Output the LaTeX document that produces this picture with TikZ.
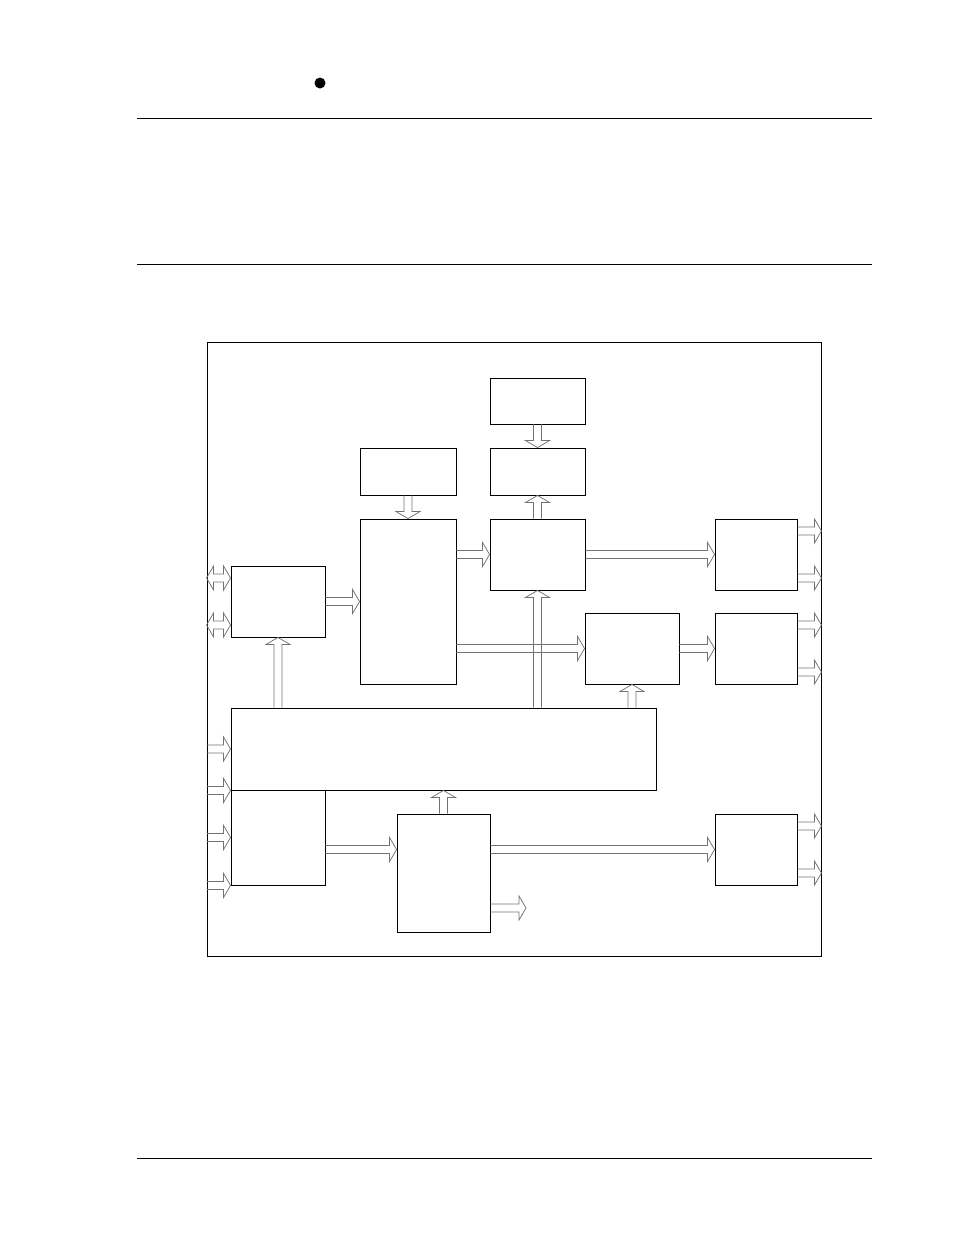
\documentclass[tikz,border=0pt]{standalone}
\usetikzlibrary{calc}

\tikzset{
	blk/.style={draw, line width=.9pt, inner sep=0pt},
	bus/.style={draw=black!55, line width=.75pt, to path={
		let \p1=(\tikztostart), \p2=(\tikztotarget), \n1={atan2(\y2-\y1,\x2-\x1)} in
		($(\p1)+(\n1+90:4pt)$) -- ($(\p2)+(\n1+180:7pt)+(\n1+90:4pt)$)
		-- ($(\p2)+(\n1+180:7pt)+(\n1+90:12pt)$) -- (\p2)
		-- ($(\p2)+(\n1+180:7pt)+(\n1-90:12pt)$) -- ($(\p2)+(\n1+180:7pt)+(\n1-90:4pt)$)
		-- ($(\p1)+(\n1-90:4pt)$)}},
	bibus/.style={draw=black!55, line width=.75pt, to path={
		let \p1=(\tikztostart), \p2=(\tikztotarget), \n1={atan2(\y2-\y1,\x2-\x1)} in
		(\p1) -- ($(\p1)+(\n1:7pt)+(\n1+90:12pt)$) -- ($(\p1)+(\n1:7pt)+(\n1+90:4pt)$)
		-- ($(\p2)+(\n1+180:7pt)+(\n1+90:4pt)$) -- ($(\p2)+(\n1+180:7pt)+(\n1+90:12pt)$) -- (\p2)
		-- ($(\p2)+(\n1+180:7pt)+(\n1-90:12pt)$) -- ($(\p2)+(\n1+180:7pt)+(\n1-90:4pt)$)
		-- ($(\p1)+(\n1:7pt)+(\n1-90:4pt)$) -- ($(\p1)+(\n1:7pt)+(\n1-90:12pt)$) -- cycle}}
}

\begin{document}
\begin{tikzpicture}[x=1pt,y=-1pt]
	\useasboundingbox (0,0) rectangle (954,1235);

	\begin{scope}[line width=1pt]
		\fill (320,83) circle (5.5pt);
		\draw (137,118) -- (872,118);
		\draw (137,264) -- (872,264);
		\draw (137,1158) -- (872,1158);
	\end{scope}

	\node[blk, minimum width=614pt, minimum height=614pt] (frame) at (514,649) {};

	\node[blk, minimum width=95pt, minimum height=46pt] (osc) at (537.5,401) {};
	\node[blk, minimum width=95pt, minimum height=47pt] (div) at (537.5,471.5) {};
	\node[blk, minimum width=96pt, minimum height=47pt] (rom) at (408,471.5) {};
	\node[blk, minimum width=96pt, minimum height=165pt] (cpu) at (408,601.5) {};
	\node[blk, minimum width=95pt, minimum height=71pt] (ctl) at (537.5,554.5) {};
	\node[blk, minimum width=94pt, minimum height=71pt] (port) at (278,601.5) {};
	\node[blk, minimum width=94pt, minimum height=71pt] (tmr) at (632,648.5) {};
	\node[blk, minimum width=82pt, minimum height=71pt] (outa) at (756,554.5) {};
	\node[blk, minimum width=82pt, minimum height=71pt] (outb) at (756,648.5) {};
	\node[blk, minimum width=425pt, minimum height=82pt] (bus) at (443.5,749) {};
	\node[blk, minimum width=94pt, minimum height=95pt] (inp) at (278,837.5) {};
	\node[blk, minimum width=93pt, minimum height=118pt] (adc) at (443.5,873) {};
	\node[blk, minimum width=82pt, minimum height=71pt] (outc) at (756,849.5) {};
	\coordinate (adcout) at (526,908);

	\begin{scope}[every path/.style={bus}]
		\draw (osc.south) to (div.north);
		\draw (ctl.north) to (div.south);
		\draw (rom.south) to (cpu.north);
		\draw (port.east) to (cpu.west |- port.east);
		\draw (cpu.east |- ctl.west) to (ctl.west);
		\draw (ctl.east) to (outa.west);
		\draw (cpu.east |- tmr.west) to (tmr.west);
		\draw (tmr.east) to (outb.west);
		\draw (ctl.south |- bus.north) to (ctl.south);
		\draw (port.south |- bus.north) to (port.south);
		\draw (tmr.south |- bus.north) to (tmr.south);
		\draw (adc.north) to (adc.north |- bus.south);
		\draw (inp.east |- outc.west) to (adc.west |- outc.west);
		\draw (adc.east |- outc.west) to (outc.west);
		\draw (adc.east |- adcout) to (adcout);
		\draw (frame.west |- bus.west) to (bus.west);
		\draw (frame.west |- bus.south west) to (bus.south west);
		\draw (frame.west |- inp.west) to (inp.west);
		\draw (frame.west |- inp.south west) to (inp.south west);
		\foreach \o in {outa,outb,outc}
			\foreach \dy in {23.5,-23.5}
				\draw ([yshift=\dy pt]\o.east) to ([yshift=\dy pt]\o.east -| frame.east);
	\end{scope}

	\foreach \dy in {23.5,-23.5}
		\draw[bibus] ([yshift=\dy pt]port.west -| frame.west) to ([yshift=\dy pt]port.west);
\end{tikzpicture}
\end{document}
